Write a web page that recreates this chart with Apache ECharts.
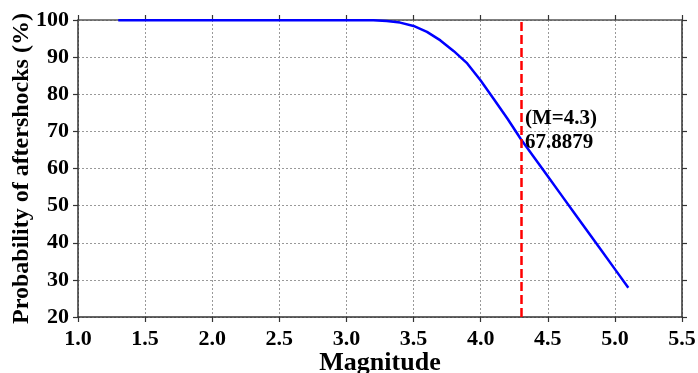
<!DOCTYPE html>
<html>
<head>
<meta charset="utf-8">
<script src="https://cdn.jsdelivr.net/npm/echarts@6/dist/echarts.min.js"></script>
<style>
  html, body { margin: 0; padding: 0; background: #fff; }
  #chart { width: 698px; height: 373px; }
</style>
</head>
<body>
<div id="chart"></div>
<script>
// magnitude (x) and probability of aftershocks in % (y)
const magnitudes = [1.3, 1.4, 1.5, 1.6, 1.7, 1.8, 1.9, 2.0, 2.1, 2.2, 2.3, 2.4, 2.5, 2.6, 2.7,
  2.8, 2.9, 3.0, 3.1, 3.2, 3.3, 3.4, 3.5, 3.6, 3.7, 3.8, 3.9, 4.0, 4.1, 4.2, 4.3, 4.4, 4.5,
  4.6, 4.7, 4.8, 4.9, 5.0, 5.1];
const probability = [99.9, 99.9, 99.9, 99.9, 99.9, 99.9, 99.9, 99.9, 99.9, 99.9, 99.9, 99.9, 99.9, 99.9, 99.9,
  99.9, 99.9, 99.9, 99.9, 99.9, 99.7, 99.3, 98.4, 96.8, 94.5, 91.6, 88.3, 83.7, 78.6, 73.4, 67.8879, 62.9, 57.9,
  52.9, 47.9, 42.9, 37.9, 32.9, 27.9];
const markMagnitude = 4.3;
const markValue = 67.8879;
const xTicks = { min: 1.0, max: 5.5, step: 0.5 };
const yTicks = { min: 20, max: 100, step: 10 };

const font = "Liberation Serif";
const axisColor = "#333";

const chart = echarts.init(document.getElementById("chart"), null, { renderer: "canvas" });

const baseAxis = {
  type: "value",
  axisLine: { show: true, onZero: false, lineStyle: { color: axisColor, width: 1.5 } },
  axisTick: { show: true, inside: false, length: 5, lineStyle: { color: axisColor, width: 1.2 } },
  splitLine: { show: false },
};

chart.setOption({
  animation: false,
  backgroundColor: "#fff",
  grid: { left: 78, right: 16, top: 20, bottom: 56, containLabel: false, outerBoundsMode: "none" },
  xAxis: [
    {
      ...baseAxis,
      position: "bottom",
      min: xTicks.min, max: xTicks.max, interval: xTicks.step,
      name: "Magnitude",
      nameLocation: "middle",
      nameGap: 33,
      nameMoveOverlap: false,
      nameTextStyle: { fontFamily: font, fontWeight: "bold", fontSize: 26, color: "#000" },
      axisLabel: {
        margin: 11, fontFamily: font, fontWeight: "bold", fontSize: 22, color: "#000",
        formatter: (v) => v.toFixed(1),
      },
      splitLine: { show: true, lineStyle: { color: "#999", type: [2, 2], width: 1 } },
    },
    {
      ...baseAxis,
      position: "top",
      min: xTicks.min, max: xTicks.max, interval: xTicks.step,
      axisLine: { show: true, onZero: false, lineStyle: { color: "#555", width: 1.5 } },
      axisLabel: { show: false },
    },
  ],
  yAxis: [
    {
      ...baseAxis,
      position: "left",
      min: yTicks.min, max: yTicks.max, interval: yTicks.step,
      name: "Probability of aftershocks (%)",
      nameLocation: "middle",
      nameGap: 44,
      nameMoveOverlap: false,
      nameTextStyle: { fontFamily: font, fontWeight: "bold", fontSize: 24, color: "#000" },
      axisLabel: { margin: 9, fontFamily: font, fontWeight: "bold", fontSize: 22, color: "#000" },
      splitLine: { show: true, lineStyle: { color: "#999", type: [2, 2], width: 1 } },
    },
    {
      ...baseAxis,
      position: "right",
      min: yTicks.min, max: yTicks.max, interval: yTicks.step,
      axisLabel: { show: false },
    },
  ],
  series: [
    {
      type: "line",
      data: magnitudes.map((m, i) => [m, probability[i]]),
      showSymbol: false,
      lineStyle: { color: "#0000ff", width: 2.5 },
      z: 3,
      markLine: {
        silent: true,
        symbol: "none",
        label: { show: false },
        lineStyle: { color: "#ff0000", width: 2.5, type: [9, 4] },
        data: [{ xAxis: markMagnitude }],
      },
      markPoint: {
        symbol: "circle",
        symbolSize: 0,
        silent: true,
        data: [{ coord: [markMagnitude, markValue] }],
        label: {
          show: true,
          position: "right",
          distance: 4,
          offset: [0, -9],
          formatter: "(M=" + markMagnitude + ")\n" + markValue,
          fontFamily: font,
          fontWeight: "bold",
          fontSize: 21,
          lineHeight: 24,
          color: "#000",
          align: "left",
        },
      },
    },
  ],
});
</script>
</body>
</html>
